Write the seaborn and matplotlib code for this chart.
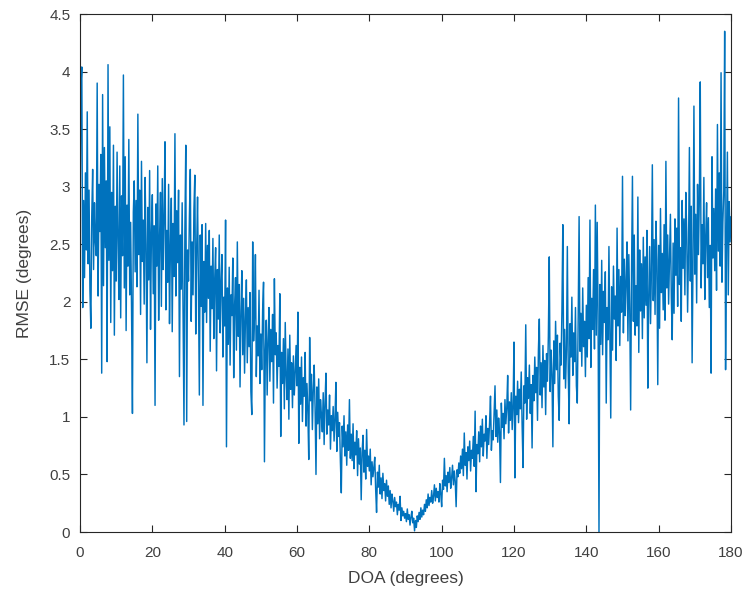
import numpy as np
import pandas as pd
import matplotlib
matplotlib.use("Agg")
import matplotlib.pyplot as plt
import seaborn as sns
from matplotlib.ticker import FuncFormatter

# RMSE values, 0.25-degree DOA grid
rmse_000_030 = [
    2.62, 3.87, 4.04, 1.95, 2.88, 2.21, 3.12, 2.45, 3.65, 2.33, 2.97, 2.10, 1.77, 2.74, 3.15, 2.28, 2.86, 2.52, 2.40, 3.90,
    2.05, 3.02, 2.61, 3.28, 1.38, 3.80, 2.14, 3.34, 2.47, 3.05, 1.48, 4.06, 2.36, 3.52, 1.82, 2.95, 2.27, 3.36, 1.71, 2.83,
    2.18, 3.30, 2.55, 2.02, 3.18, 1.86, 2.92, 2.40, 3.97, 2.12, 3.26, 1.75, 2.84, 2.31, 3.41, 2.06, 2.69, 1.94, 1.03, 2.78,
    3.05, 2.26, 2.88, 2.13, 3.63, 2.41, 2.97, 1.89, 3.22, 2.35, 2.71, 1.98, 3.08, 2.50, 1.47, 2.82, 2.19, 3.14, 1.76, 2.60,
    2.93, 2.07, 2.66, 1.10, 2.85, 2.31, 3.18, 1.84, 2.55, 2.95, 1.96, 3.07, 2.28, 2.74, 3.39, 1.93, 2.62, 2.17, 3.02, 1.81,
    2.47, 2.90, 1.74, 2.68, 2.22, 3.46, 2.05, 2.79, 2.34, 2.97, 1.35, 2.58, 2.11, 2.86, 1.88, 0.93, 2.62, 3.36, 0.96, 2.45,
]
rmse_030_060 = [
    2.18, 2.74, 3.15, 1.83, 2.52, 2.06, 2.80, 3.10, 1.72, 2.44, 2.91, 2.13, 1.19, 2.58, 1.96, 2.67, 1.10, 2.35, 1.91, 2.68,
    1.82, 2.49, 2.03, 2.62, 1.57, 2.31, 1.94, 2.55, 1.68, 2.20, 2.47, 1.40, 2.28, 1.85, 2.58, 1.73, 2.16, 2.41, 1.52, 2.04,
    1.79, 2.71, 0.74, 2.12, 1.63, 2.30, 1.45, 2.06, 1.88, 2.38, 1.34, 1.97, 2.21, 1.58, 2.52, 1.70, 2.15, 1.26, 1.92, 2.27,
    1.54, 2.03, 1.38, 1.86, 2.19, 1.47, 1.95, 1.61, 2.08, 1.22, 1.02, 2.52, 1.66, 1.88, 2.41, 1.35, 1.79, 1.53, 2.10, 1.29,
    1.72, 1.41, 1.93, 2.17, 0.61, 1.58, 1.84, 1.19, 1.67, 1.95, 1.31, 1.76, 1.48, 1.89, 1.12, 2.20, 1.54, 1.73, 1.25, 1.62,
    1.44, 2.07, 0.83, 1.56, 1.29, 1.68, 1.07, 1.82, 1.36, 1.15, 1.59, 0.98, 1.71, 1.24, 1.47, 1.08, 1.53, 1.19, 1.38, 1.62,
]
rmse_060_090 = [
    1.27, 1.91, 0.77, 1.43, 1.11, 1.52, 0.96, 1.34, 1.18, 1.56, 0.92, 1.29, 1.05, 0.63, 1.69, 1.14, 1.37, 0.89, 1.23, 1.45,
    1.08, 0.50, 1.26, 0.94, 1.33, 0.81, 1.15, 1.02, 0.87, 1.21, 0.76, 1.12, 1.38, 0.85, 1.06, 0.93, 1.19, 0.72, 1.01, 0.88,
    1.09, 0.79, 0.98, 1.30, 0.70, 1.04, 0.83, 0.95, 0.61, 0.34, 0.92, 0.74, 1.01, 0.66, 0.87, 0.58, 0.93, 0.71, 1.15, 0.64,
    0.85, 0.62, 0.94, 0.55, 0.78, 0.67, 0.88, 0.49, 0.81, 0.59, 0.73, 0.28, 0.69, 0.84, 0.52, 0.71, 0.46, 0.89, 0.57, 0.66,
    0.53, 0.72, 0.41, 0.61, 0.48, 0.56, 0.65, 0.37, 0.17, 0.52, 0.39, 0.58, 0.33, 0.47, 0.29, 0.51, 0.36, 0.42, 0.27, 0.45,
    0.31, 0.40, 0.24, 0.36, 0.21, 0.33, 0.27, 0.18, 0.30, 0.22, 0.26, 0.15, 0.24, 0.19, 0.31, 0.10, 0.21, 0.14, 0.18, 0.12,
]
rmse_090_120 = [
    0.16, 0.09, 0.20, 0.11, 0.15, 0.06, 0.13, 0.18, 0.08, 0.12, 0.01, 0.10, 0.04, 0.14, 0.09, 0.17, 0.11, 0.21, 0.13, 0.19,
    0.15, 0.24, 0.18, 0.28, 0.21, 0.33, 0.23, 0.30, 0.26, 0.36, 0.25, 0.31, 0.41, 0.27, 0.38, 0.30, 0.35, 0.26, 0.42, 0.33,
    0.22, 0.45, 0.37, 0.64, 0.40, 0.49, 0.35, 0.52, 0.43, 0.56, 0.38, 0.47, 0.58, 0.41, 0.53, 0.44, 0.22, 0.54, 0.48, 0.60,
    0.51, 0.66, 0.55, 0.72, 0.49, 0.86, 0.58, 0.69, 0.46, 0.74, 0.62, 0.79, 0.53, 0.71, 0.64, 0.83, 0.57, 1.05, 0.35, 0.76,
    0.68, 0.87, 0.61, 0.92, 0.74, 0.98, 0.66, 0.85, 0.79, 1.01, 0.64, 0.90, 0.76, 0.95, 1.18, 0.71, 0.88, 0.80, 1.04, 1.27,
    0.83, 1.06, 0.78, 0.99, 0.87, 0.43, 1.12, 0.91, 1.03, 0.81, 1.15, 0.94, 1.08, 1.36, 0.86, 1.13, 0.97, 1.21, 0.89, 1.10,
]
rmse_120_150 = [
    1.65, 0.47, 1.18, 1.02, 1.31, 0.95, 1.24, 1.07, 1.39, 0.92, 0.56, 1.27, 1.12, 1.80, 0.98, 1.34, 1.16, 1.45, 1.03, 1.28,
    0.73, 1.36, 1.14, 1.52, 1.21, 1.43, 0.97, 1.58, 1.85, 1.19, 1.47, 1.08, 1.62, 1.26, 1.49, 1.02, 1.55, 1.31, 1.70, 2.39,
    1.22, 1.58, 1.37, 0.74, 1.66, 1.29, 1.83, 1.41, 1.71, 1.18, 0.97, 1.64, 1.45, 1.92, 2.67, 1.33, 1.76, 1.25, 1.58, 2.48,
    1.39, 0.94, 1.81, 1.52, 2.04, 1.36, 1.73, 1.48, 1.95, 1.27, 1.12, 1.86, 2.74, 1.57, 1.90, 1.44, 2.12, 1.61, 1.83, 1.35,
    1.97, 1.52, 2.21, 1.68, 2.71, 1.43, 2.03, 1.76, 2.28, 1.59, 2.84, 1.71, 2.69, 1.88, 0.00, 2.15, 1.63, 2.36, 1.54, 2.09,
    1.82, 2.26, 1.12, 1.95, 1.67, 2.48, 1.74, 0.99, 2.13, 1.58, 2.31, 1.85, 2.05, 1.49, 2.64, 1.79, 2.28, 1.62, 2.22, 1.91,
]
rmse_150_180 = [
    3.09, 1.73, 2.37, 1.88, 2.18, 2.52, 1.66, 2.41, 1.94, 1.06, 2.26, 3.09, 1.83, 2.58, 1.71, 2.14, 1.79, 2.91, 1.56, 2.45,
    1.92, 2.33, 1.68, 2.56, 1.86, 2.39, 1.97, 2.62, 1.25, 2.05, 2.48, 1.81, 2.27, 3.19, 2.01, 2.54, 1.89, 2.70, 2.36, 1.28,
    2.49, 1.77, 2.81, 2.08, 2.42, 1.93, 2.67, 1.84, 3.22, 2.12, 2.58, 1.98, 2.35, 2.76, 2.04, 1.67, 2.51, 1.90, 2.72, 2.23,
    2.64, 1.96, 3.77, 2.15, 2.47, 1.83, 2.88, 2.29, 2.72, 2.06, 2.95, 2.61, 1.91, 2.43, 3.34, 2.18, 2.83, 1.47, 2.37, 3.70,
    2.24, 2.76, 1.99, 3.02, 2.41, 2.90, 3.91, 2.12, 2.67, 2.33, 3.08, 2.02, 2.55, 2.86, 2.21, 2.73, 1.95, 2.49, 1.38, 3.26,
    2.38, 2.81, 2.27, 2.98, 2.10, 3.54, 2.44, 3.12, 2.31, 3.99, 2.17, 2.69, 2.96, 4.35, 1.41, 2.48, 3.30, 2.06, 2.87, 2.52, 2.74,
]

x_ticks = [0, 20, 40, 60, 80, 100, 120, 140, 160, 180]
y_ticks = [0, 0.5, 1, 1.5, 2, 2.5, 3, 3.5, 4, 4.5]
x_label = "DOA (degrees)"
y_label = "RMSE (degrees)"

rmse = (rmse_000_030 + rmse_030_060 + rmse_060_090 + rmse_090_120
        + rmse_120_150 + rmse_150_180)
doa = np.linspace(0, 180, len(rmse))
df = pd.DataFrame({"doa": doa, "rmse": rmse})

sns.set_style("white")
plt.rcParams["font.family"] = ["Liberation Sans", "DejaVu Sans"]

fig = plt.figure(figsize=(7.52, 6.02), dpi=100)
ax = fig.add_axes([80 / 752, 70 / 602, 651 / 752, 518 / 602])

sns.lineplot(data=df, x="doa", y="rmse", ax=ax, color="#0072BD",
             linewidth=1.05, estimator=None, sort=False)

ax.set_xlim(0, 180)
ax.set_ylim(0, 4.5)
ax.set_xticks(x_ticks)
ax.set_yticks(y_ticks)
ax.yaxis.set_major_formatter(FuncFormatter(lambda v, p: f"{v:g}"))
ax.xaxis.set_major_formatter(FuncFormatter(lambda v, p: f"{v:g}"))

edge = "#262626"
label_col = "#404040"
for s in ax.spines.values():
    s.set_visible(True)
    s.set_color(edge)
    s.set_linewidth(0.8)
ax.tick_params(direction="in", length=5, width=0.8, color=edge,
               labelcolor=label_col, labelsize=11, top=True, right=True,
               bottom=True, left=True)
ax.tick_params(axis="x", pad=10)
ax.tick_params(axis="y", pad=7)
ax.set_xlabel(x_label, fontsize=12.5, color=label_col, labelpad=8)
ax.set_ylabel(y_label, fontsize=12.5, color=label_col, labelpad=12)
ax.grid(False)

fig.savefig("out.png", dpi=100, facecolor="white")
